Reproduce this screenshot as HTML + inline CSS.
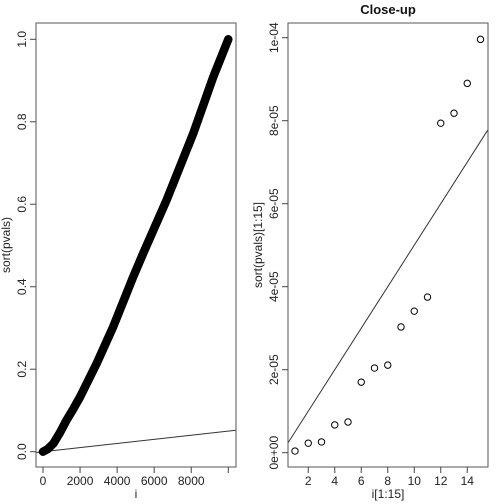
<!DOCTYPE html>
<html><head><meta charset="utf-8">
<style>
html,body{margin:0;padding:0;background:#fff;}
svg{display:block;font-family:"Liberation Sans",Arial,sans-serif;}
</style></head>
<body>
<svg id="chart" width="504" height="504" viewBox="0 0 504 504" xmlns="http://www.w3.org/2000/svg"></svg>
<script>
// Left panel data (sorted p-values)
const leftIdx = [1, 250, 560, 900, 1280, 1650, 2000, 2900, 3790, 4870, 5410, 6670, 8110, 9190, 10000];
const leftP = [0, 0.006, 0.02, 0.045, 0.077, 0.105, 0.133, 0.214, 0.303, 0.424, 0.481, 0.61, 0.772, 0.909, 1.0];
const leftXTicks = [0, 2000, 4000, 6000, 8000, 10000];
const leftXTickLabels = ["0", "2000", "4000", "6000", "8000", ""];
const leftYTicks = [0, 0.2, 0.4, 0.6, 0.8, 1.0];
const leftYTickLabels = ["0.0", "0.2", "0.4", "0.6", "0.8", "1.0"];
// Right panel data (first 15 sorted p-values)
const rightIdx = [1,2,3,4,5,6,7,8,9,10,11,12,13,14,15];
const rightP = [0.4e-6,2.3e-6,2.6e-6,6.7e-6,7.4e-6,17e-6,20.4e-6,21.1e-6,30.3e-6,34.1e-6,37.5e-6,79.4e-6,81.8e-6,89e-6,99.6e-6];
const rightXTicks = [2,4,6,8,10,12,14];
const rightYTicks = [0, 2e-5, 4e-5, 6e-5, 8e-5, 1e-4];
const rightYTickLabels = ["0e+00","2e-05","4e-05","6e-05","8e-05","1e-04"];
const lineSlope = 0.05/10000;

const NS="http://www.w3.org/2000/svg";
const svg=document.getElementById('chart');
function el(tag,attrs,parent){const e=document.createElementNS(NS,tag);for(const k in attrs)e.setAttribute(k,attrs[k]);(parent||svg).appendChild(e);return e;}

function panel(cfg){
  const g=el('g',{});
  
  
  const L=cfg.box[0],R=cfg.box[1],T=cfg.box[2],B=cfg.box[3];
  const xs=v=>cfg.x0px+(v-cfg.x0)*(cfg.x1px-cfg.x0px)/(cfg.x1-cfg.x0);
  const ys=v=>cfg.y0px+(v-cfg.y0)*(cfg.y1px-cfg.y0px)/(cfg.y1-cfg.y0);
  const clip=el('clipPath',{id:cfg.name+'-clip'},g);
  el('rect',{x:L,y:T,width:R-L,height:B-T},clip);
  const ln=el('line',{x1:L,y1:ys(lineSlope*cfg.xinv(L)),x2:R,y2:ys(lineSlope*cfg.xinv(R)),stroke:'#333','stroke-width':1,'clip-path':'url(#'+cfg.name+'-clip)'},g);
  
  
  cfg.drawData(g,xs,ys);
  const box=el('rect',{x:L,y:T,width:R-L,height:B-T,fill:'none',stroke:'#555','stroke-width':1},g);
  
  
  cfg.xt.forEach((t,i)=>{
    const x=xs(t);
    el('line',{x1:x,y1:B,x2:x,y2:B+6,stroke:'#444'},g);
    if(cfg.xtl[i]){const tx=el('text',{x:x,y:B+18,'text-anchor':'middle','font-size':12,fill:'#222'},g);tx.textContent=cfg.xtl[i];
    
    }
  });
  cfg.yt.forEach((t,i)=>{
    const y=ys(t);
    el('line',{x1:L,y1:y,x2:L-6,y2:y,stroke:'#444'},g);
    const tx=el('text',{x:0,y:0,'text-anchor':'middle','font-size':12,fill:'#222',transform:'translate('+(L-10)+','+y+') rotate(-90)'},g);
    tx.textContent=cfg.ytl[i];
    
    
  });
  const xl=el('text',{x:(L+R)/2,y:B+31,'text-anchor':'middle','font-size':12,fill:'#222'},g);
  xl.textContent=cfg.xlab;
  
  
  const yl=el('text',{x:0,y:0,'text-anchor':'middle','font-size':12,fill:'#222',transform:'translate('+(L-26)+','+((T+B)/2)+') rotate(-90)'},g);
  yl.textContent=cfg.ylab;
  
  
  if(cfg.title){const tt=el('text',{x:(L+R)/2,y:14,'text-anchor':'middle','font-size':13,'font-weight':'bold',fill:'#111'},g);tt.textContent=cfg.title;
  
  }
}

panel({name:'left-panel',box:[36,236,23,467],x0:0,x1:10000,x0px:43,x1px:228.3,y0:0,y1:1,y0px:451.7,y1px:39.3,
  xinv:px=>(px-43)*10000/(228.3-43),
  xt:leftXTicks,xtl:leftXTickLabels,yt:leftYTicks,ytl:leftYTickLabels,xlab:'i',ylab:'sort(pvals)',
  drawData:(g,xs,ys)=>{
    const pts=leftIdx.map((v,i)=>xs(v).toFixed(1)+','+ys(leftP[i]).toFixed(1)).join(' ');
    const pl=el('polyline',{points:pts,fill:'none',stroke:'#000','stroke-width':8.5,'stroke-linecap':'round','stroke-linejoin':'round'},g);
    
    
  }});

panel({name:'right-panel',box:[288,488,23,467],x0:1,x1:15,x0px:295,x1px:480.5,y0:0,y1:1e-4,y0px:452.7,y1px:37.7,
  xinv:px=>1+(px-295)*14/(480.5-295),
  xt:rightXTicks,xtl:rightXTicks.map(String),yt:rightYTicks,ytl:rightYTickLabels,xlab:'i[1:15]',ylab:'sort(pvals)[1:15]',title:'Close-up',
  drawData:(g,xs,ys)=>{
    rightIdx.forEach((v,i)=>{
      const c=el('circle',{cx:xs(v),cy:ys(rightP[i]),r:3.2,fill:'none',stroke:'#000','stroke-width':1},g);
      
      
    });
  }});
</script>
</body></html>
